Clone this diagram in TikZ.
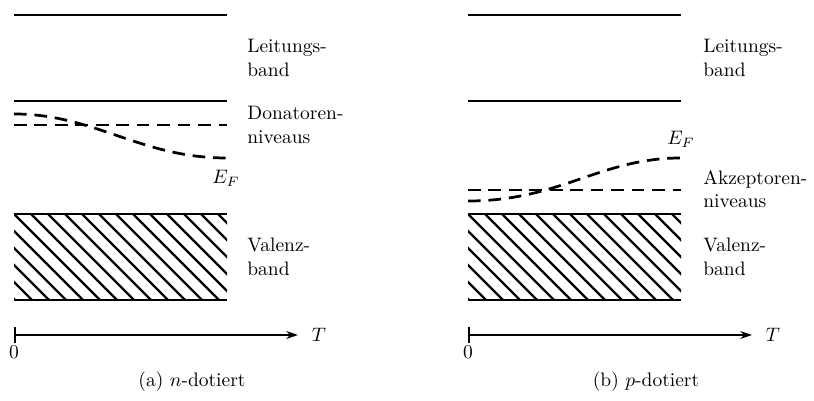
\documentclass[tikz,border=0pt]{standalone}
\usepackage{amsmath}
\usepackage{tikz}
\usetikzlibrary{arrows.meta}

\begin{document}
\begin{tikzpicture}[x=0.513pt,y=-0.513pt,>=Stealth,
  band/.style={line width=1.5pt},
  niveau/.style={line width=1.4pt,dash pattern=on 6.5pt off 4pt},
  hatch/.style={line width=1.2pt},
  axis/.style={line width=1pt,{Bar[width=8pt]}-{Stealth[length=6pt,width=4pt]}},
  lbl/.style={align=left,anchor=west,inner sep=0pt}]
  \useasboundingbox (0,0) rectangle (814,401);

  % (a) n-dotiert
  \draw[band] (14,15) -- (227,15);
  \draw[band] (14,101) -- (227,101);
  \draw[niveau] (14,125) -- (227,125);
  \draw[niveau] (14,114) .. controls (95,114) and (140,158) .. (227,158);
  \begin{scope}
    \clip (14,214) rectangle (227,300);
    \foreach \k in {-6,...,13}
      \draw[hatch] (14+17*\k,214) -- ++(86,86);
  \end{scope}
  \draw[band] (14,214) -- (227,214);
  \draw[band] (14,300) -- (227,300);

  \node[lbl] (aLB) at (247,58) {Leitungs-\\band};
  \node[lbl] (aDN) at (247,125) {Donatoren-\\niveaus};
  \node[lbl] (aVB) at (247,257) {Valenz-\\band};
  \node (aEF) at (226,178) {$E_F$};

  \coordinate (aO) at (14,335);
  \coordinate (aE) at (298,335);
  \draw[axis] (aO) -- (aE);
  \node (aT) at (319,335) {$T$};
  \node (aNull) at (14,352) {0};
  \node (aCap) at (192,382) {(a) $n$-dotiert};

  % (b) p-dotiert
  \draw[band] (468,15) -- (681,15);
  \draw[band] (468,101) -- (681,101);
  \draw[niveau] (468,190) -- (681,190);
  \draw[niveau] (468,201) .. controls (560,201) and (600,158) .. (681,158);
  \begin{scope}
    \clip (468,214) rectangle (681,300);
    \foreach \k in {-6,...,13}
      \draw[hatch] (468+17*\k,214) -- ++(86,86);
  \end{scope}
  \draw[band] (468,214) -- (681,214);
  \draw[band] (468,300) -- (681,300);

  \node[lbl] (bLB) at (703,58) {Leitungs-\\band};
  \node[lbl] (bAN) at (703,189) {Akzeptoren-\\niveaus};
  \node[lbl] (bVB) at (703,257) {Valenz-\\band};
  \node (bEF) at (681,139) {$E_F$};

  \coordinate (bO) at (468,335);
  \coordinate (bE) at (752,335);
  \draw[axis] (bO) -- (bE);
  \node (bT) at (773,335) {$T$};
  \node (bNull) at (468,352) {0};
  \node (bCap) at (646,382) {(b) $p$-dotiert};
\end{tikzpicture}
\end{document}
